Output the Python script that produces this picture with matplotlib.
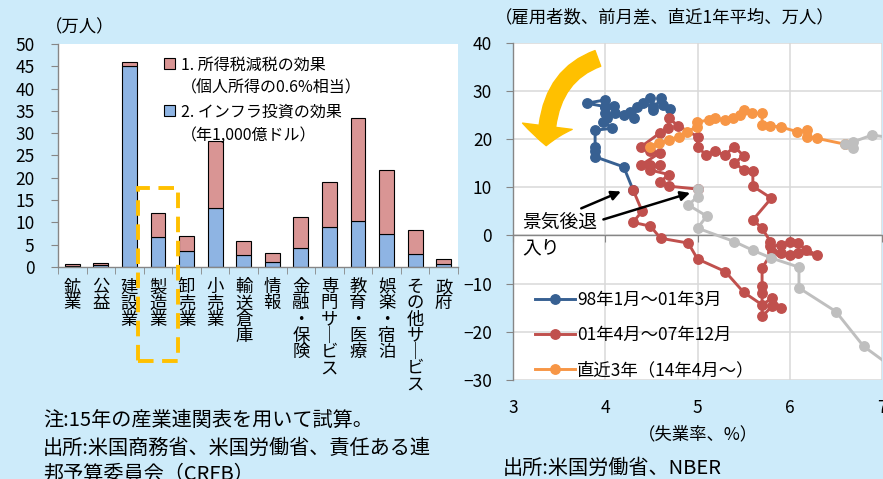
import numpy as np
import matplotlib
matplotlib.use("Agg")
import matplotlib.pyplot as plt
from matplotlib.patches import Patch, Rectangle, FancyArrowPatch
from matplotlib.lines import Line2D
import matplotlib.transforms as mtransforms

plt.rcParams['font.family'] = ['Noto Sans CJK JP', 'DejaVu Sans']

# left panel: employment effect by industry (10k persons)
industries = ['鉱業', '公益', '建設業', '製造業', '卸売業', '小売業', '輸送倉庫', '情報',
              '金融・保険', '専門サービス', '教育・医療', '娯楽・宿泊', 'その他サービス', '政府']
infra = [0.3, 0.4, 45.1, 6.7, 3.6, 13.2, 2.7, 1.2, 4.2, 9.0, 10.3, 7.3, 2.9, 0.7]
tax_cut = [0.3, 0.4, 0.8, 5.5, 3.4, 15.0, 3.1, 1.9, 6.9, 10.0, 23.0, 14.4, 5.4, 1.1]
legend_labels = ['1. 所得税減税の効果', '（個人所得の0.6%相当）', '2. インフラ投資の効果', '（年1,000億ドル）']

# right panel: unemployment rate (%) vs payroll change (12m avg, 10k persons)
blue_x = [4.70, 4.63, 4.60, 4.52, 4.49, 4.52, 4.41, 4.34, 4.31, 4.27, 4.20, 4.11, 4.09, 4.00,
          3.80, 4.00, 4.00, 4.00, 4.02, 3.98, 4.07, 3.89, 3.89, 3.89, 3.89, 4.20, 4.30]
blue_y = [26.3, 27.0, 28.4, 26.0, 28.4, 26.7, 27.4, 26.7, 24.3, 25.6, 24.9, 25.3, 26.9, 26.7,
          27.4, 28.1, 26.7, 25.3, 24.3, 23.6, 22.2, 21.8, 18.4, 17.4, 16.3, 14.2, 9.5]
red_x = [4.30, 4.40, 4.30, 4.49, 4.60, 4.90, 5.00, 5.30, 5.50, 5.70, 5.81, 5.90, 5.81, 5.70,
         5.70, 5.70, 5.70, 5.81, 5.90, 6.00, 6.09, 6.29, 6.18, 6.09, 6.00, 5.90, 5.79, 5.79,
         5.70, 5.60, 5.80, 5.60, 5.60, 5.50, 5.40, 5.50, 5.40, 5.30, 5.19, 5.09, 5.00, 5.00,
         4.79, 4.69, 4.68, 4.59, 4.39, 4.48, 4.59, 4.39, 4.48, 4.59, 4.48, 4.69, 4.59, 4.69, 5.00]
red_y = [9.5, 5.0, 2.7, 1.9, -0.6, -1.6, -4.9, -7.5, -11.8, -14.4, -13.0, -15.1, -14.7, -16.8,
         -12.0, -10.6, -6.8, -3.4, -3.7, -4.0, -3.7, -4.0, -3.0, -1.6, -1.3, -2.0, -2.3, -1.3,
         1.5, 3.2, 7.7, 10.2, 13.3, 13.6, 15.0, 16.5, 18.4, 16.7, 17.4, 16.7, 18.4, 20.5,
         22.7, 24.3, 22.2, 21.2, 18.4, 17.4, 17.1, 14.6, 14.6, 14.6, 13.6, 12.6, 11.0, 10.2, 9.6]
orange_x = [6.60, 6.30, 6.19, 6.19, 6.08, 5.90, 5.79, 5.70, 5.70, 5.59, 5.50, 5.46, 5.39, 5.30,
            5.19, 5.12, 4.99, 4.99, 4.89, 4.80, 4.69, 4.58, 4.49]
orange_y = [18.9, 20.1, 20.5, 21.8, 21.5, 22.5, 22.7, 22.9, 25.3, 25.3, 26.0, 24.9, 24.3, 23.9,
            24.3, 23.9, 23.5, 22.5, 21.5, 20.5, 19.8, 19.1, 18.4]
gray1_x = [5.00, 5.00, 4.90, 5.10, 5.00, 5.40, 5.60, 5.80, 6.10, 6.10, 6.50, 6.80, 7.30]
gray1_y = [9.6, 8.0, 6.3, 4.0, 1.5, -1.3, -3.1, -4.7, -6.6, -10.9, -15.8, -23.0, -30.0]
gray2_x = [7.20, 6.89, 6.69, 6.69, 6.60]
gray2_y = [20.0, 20.8, 19.4, 18.1, 18.9]
series_labels = ['98年1月～01年3月', '01年4月～07年12月', '直近3年（14年4月～）']

bg = '#CDEBFA'
pink = '#D99594'
lblue = '#8EB4E3'
c_blue, c_red, c_orange, c_gray = '#376092', '#C0504D', '#F79646', '#BFBFBF'
axis_gray = '#868686'

fig = plt.figure(figsize=(8.83, 4.79), dpi=100)
fig.patch.set_facecolor(bg)

# ---- left: stacked bars
ax = fig.add_axes([58 / 883, 1 - 267 / 479, 400 / 883, 223 / 479])
xs = np.arange(len(industries))
ax.bar(xs, infra, width=0.52, color=lblue, edgecolor='black', linewidth=0.8)
ax.bar(xs, tax_cut, width=0.52, bottom=infra, color=pink, edgecolor='black', linewidth=0.8)
ax.set_xlim(-0.5, len(industries) - 0.5)
ax.set_ylim(0, 50)
ax.set_yticks(np.arange(0, 51, 5))
ax.set_xticks([])
ax.set_xticks(np.arange(-0.5, len(industries)), minor=True)
ax.tick_params(axis='x', which='minor', length=5, color=axis_gray)
ax.tick_params(axis='y', length=5, color=axis_gray, labelsize=12.5, pad=12)
for s in ['top', 'right']:
    ax.spines[s].set_visible(False)
for s in ['left', 'bottom']:
    ax.spines[s].set_color(axis_gray)
    ax.spines[s].set_linewidth(1.0)

trans = mtransforms.blended_transform_factory(ax.transData, ax.transAxes)
for i, name in enumerate(industries):
    ax.text(i, -0.05, '\n'.join(name.replace('ー', '｜')), transform=trans,
            ha='center', va='top', fontsize=12.5, linespacing=0.87)

handles = [Patch(facecolor=pink, edgecolor='black', lw=0.8), Patch(facecolor='none', edgecolor='none'),
           Patch(facecolor=lblue, edgecolor='black', lw=0.8), Patch(facecolor='none', edgecolor='none')]
ax.legend(handles, legend_labels, loc='upper left', bbox_to_anchor=(0.245, 0.98), frameon=False,
          fontsize=11.5, borderpad=0, handlelength=0.7, handleheight=0.7, handletextpad=0.35,
          labelspacing=0.4)

fig.text(80 / 883, 1 - 27 / 479, '（万人）', ha='center', va='center', fontsize=12.5)

# dashed highlight around manufacturing
fig.patches.append(Rectangle((138 / 883, 1 - 361 / 479), 40 / 883, 173 / 479,
                             transform=fig.transFigure, fill=False, edgecolor='#FFC000',
                             lw=2.8, linestyle=(0, (4, 2.2)), zorder=5))

fig.text(43 / 883, 1 - 420 / 479, '注:15年の産業連関表を用いて試算。', ha='left', va='center', fontsize=14.5)
fig.text(43 / 883, 1 - 448 / 479, '出所:米国商務省、米国労働省、責任ある連', ha='left', va='center', fontsize=14.5)
fig.text(43 / 883, 1 - 474 / 479, '邦予算委員会（CRFB）', ha='left', va='center', fontsize=14.5)

# ---- right: unemployment vs payrolls
ax2 = fig.add_axes([513 / 883, 1 - 380 / 479, 369 / 883, 337.5 / 479])
ax2.set_xlim(3, 7)
ax2.set_ylim(-30, 40)
ax2.set_xticks(np.arange(3, 8))
ax2.set_yticks(np.arange(-30, 41, 10))
ax2.grid(True, color='#D9D9D9', lw=1.1)
ax2.set_axisbelow(True)
for s in ['top', 'right']:
    ax2.spines[s].set_visible(False)
ax2.spines['bottom'].set_position(('data', 0))
for s in ['left', 'bottom']:
    ax2.spines[s].set_color(axis_gray)
    ax2.spines[s].set_linewidth(1.0)
ax2.tick_params(axis='x', length=5, color=axis_gray, labelbottom=False)
ax2.tick_params(axis='y', length=5, color=axis_gray, labelsize=12.5, pad=10)
sec = ax2.secondary_xaxis('bottom')
sec.set_xticks(np.arange(3, 8))
sec.spines['bottom'].set_visible(False)
sec.tick_params(length=0, labelsize=12.5, pad=14)
sec.set_xlabel('（失業率、%）', fontsize=12.5, labelpad=6)

kw = dict(lw=2.1, marker='o', ms=6.8, clip_on=True)
ax2.plot(blue_x, blue_y, color=c_blue, zorder=3, **kw)
ax2.plot(red_x, red_y, color=c_red, zorder=4, **kw)
ax2.plot(orange_x, orange_y, color=c_orange, zorder=5, **kw)
ax2.plot(gray1_x, gray1_y, color=c_gray, zorder=6, **kw)
ax2.plot(gray2_x, gray2_y, color=c_gray, zorder=6, **kw)

leg_handles = [Line2D([], [], color=c, lw=2.1, marker='o', ms=6.8) for c in (c_blue, c_red, c_orange)]
ax2.legend(leg_handles, series_labels, loc='upper left', bbox_to_anchor=(0.035, 0.29), frameon=False,
           fontsize=12.5, borderpad=0, handlelength=2.3, handletextpad=0.15, labelspacing=1.0)

ax2.text(3.1, 2.8, '景気後退', fontsize=13.5, ha='left', va='center', zorder=7)
ax2.text(3.1, -2.6, '入り', fontsize=13.5, ha='left', va='center', zorder=7)
ax2.annotate('', xy=(4.17, 9.1), xytext=(3.74, 5.6),
             arrowprops=dict(arrowstyle='-|>', color='black', lw=1.8, mutation_scale=14, shrinkA=0, shrinkB=0),
             zorder=8)
ax2.annotate('', xy=(4.92, 8.8), xytext=(3.98, 3.3),
             arrowprops=dict(arrowstyle='-|>', color='black', lw=1.8, mutation_scale=14, shrinkA=0, shrinkB=0),
             zorder=8)

big = FancyArrowPatch((3.92, 36.7), (3.36, 18.6), connectionstyle='angle3,angleA=200,angleB=90',
                      arrowstyle='simple,head_length=14,head_width=36,tail_width=12',
                      mutation_scale=1, color='#FFC000', shrinkA=0, shrinkB=0, zorder=9)
ax2.add_patch(big)

fig.text(665 / 883, 1 - 17 / 479, '（雇用者数、前月差、直近1年平均、万人）', ha='center', va='center', fontsize=12.5)
fig.text(503 / 883, 1 - 468 / 479, '出所:米国労働省、NBER', ha='left', va='center', fontsize=14.5)

fig.savefig('out.png', dpi=100, facecolor=bg)
